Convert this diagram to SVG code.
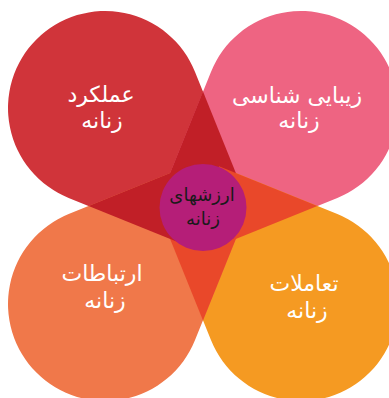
<svg xmlns="http://www.w3.org/2000/svg" xmlns:xlink="http://www.w3.org/1999/xlink" width="389" height="398" viewBox="0 0 389 398">
  <style>
    .label { font-family: "DejaVu Sans", "Noto Sans", sans-serif; font-size: 22px; fill: #ffffff; text-anchor: middle; }
    .core { font-family: "DejaVu Sans", "Noto Sans", sans-serif; font-size: 18px; fill: #1a1a1a; text-anchor: middle; }
  </style>
  <defs>
    <!-- teardrop petal: circle r=97 at (105,108) with two tangents converging on the hub (203,206) -->
    <path id="petal" d="M194.94 71.66 L242.73 189.95 L203 206 L186.95 245.73 L68.66 197.94 A97 97 0 1 1 194.94 71.66 Z"/>
    <!-- overlap wedge between two neighbouring petals, apex above the hub -->
    <polygon id="wedge" points="203,91.61 242.73,189.95 203,206 163.27,189.95"/>
  </defs>

  <rect width="389" height="398" fill="#ffffff"/>

  <g id="petal-performance">
    <use xlink:href="#petal" fill="#D0343A"/>
    <text class="label" x="101" y="102">عملکرد</text>
    <text class="label" x="102" y="128">زنانه</text>
  </g>

  <g id="petal-aesthetics">
    <use xlink:href="#petal" fill="#EE6482" transform="rotate(90 203 206)"/>
    <text class="label" x="297" y="103">زیبایی شناسی</text>
    <text class="label" x="299" y="128">زنانه</text>
  </g>

  <g id="petal-interactions">
    <use xlink:href="#petal" fill="#F59A22" transform="rotate(180 203 206)"/>
    <text class="label" x="304" y="291">تعاملات</text>
    <text class="label" x="307" y="318">زنانه</text>
  </g>

  <g id="petal-relations">
    <use xlink:href="#petal" fill="#F0784A" transform="rotate(270 203 206)"/>
    <text class="label" x="102" y="281">ارتباطات</text>
    <text class="label" x="105" y="308">زنانه</text>
  </g>

  <g id="overlaps">
    <use xlink:href="#wedge" fill="#C11F27"/>
    <use xlink:href="#wedge" fill="#E9482A" transform="rotate(90 203 206)"/>
    <use xlink:href="#wedge" fill="#E9482A" transform="rotate(180 203 206)"/>
    <use xlink:href="#wedge" fill="#C11F27" transform="rotate(270 203 206)"/>
  </g>

  <g id="center-values">
    <circle cx="203" cy="207.5" r="43.5" fill="#B51E78"/>
    <text class="core" x="202" y="201">ارزشهای</text>
    <text class="core" x="203" y="225">زنانه</text>
  </g>
</svg>
